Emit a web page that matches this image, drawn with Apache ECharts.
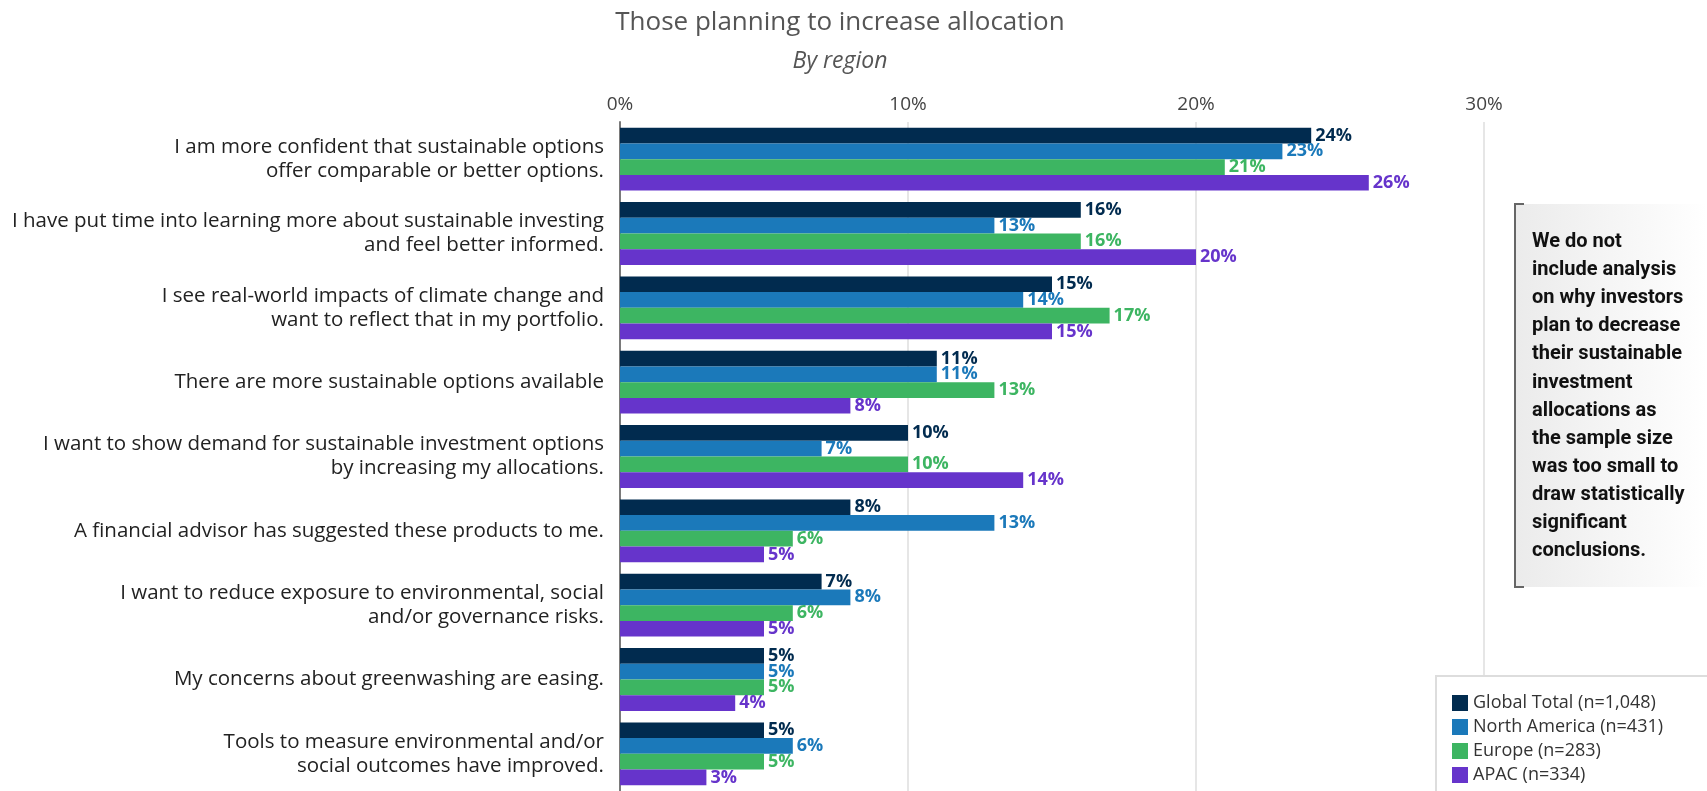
<!DOCTYPE html>
<html>
<head>
<meta charset="utf-8">
<title>Those planning to increase allocation</title>
<script src="https://cdn.jsdelivr.net/npm/echarts@6/dist/echarts.min.js"></script>
<style>
  html, body { margin: 0; padding: 0; background: #ffffff; }
  #chart { width: 1707px; height: 791px; }
</style>
</head>
<body>
<div id="chart"></div>
<script>
// Reasons given by respondents planning to increase sustainable allocations
const categories = [
  'I am more confident that sustainable options\noffer comparable or better options.',
  'I have put time into learning more about sustainable investing\nand feel better informed.',
  'I see real-world impacts of climate change and\nwant to reflect that in my portfolio.',
  'There are more sustainable options available',
  'I want to show demand for sustainable investment options\nby increasing my allocations.',
  'A financial advisor has suggested these products to me.',
  'I want to reduce exposure to environmental, social\nand/or governance risks.',
  'My concerns about greenwashing are easing.',
  'Tools to measure environmental and/or\nsocial outcomes have improved.'
];

const seriesNames = [
  'Global Total (n=1,048)',
  'North America (n=431)',
  'Europe (n=283)',
  'APAC (n=334)'
];

const globalTotal  = [24, 16, 15, 11, 10, 8, 7, 5, 5];
const northAmerica = [23, 13, 14, 11, 7, 13, 8, 5, 6];
const europe       = [21, 16, 17, 13, 10, 6, 6, 5, 5];
const apac         = [26, 20, 15, 8, 14, 5, 5, 4, 3];

const xTicks = [0, 10, 20, 30];

const noteLines = [
  'We do not',
  'include analysis',
  'on why investors',
  'plan to decrease',
  'their sustainable',
  'investment',
  'allocations as',
  'the sample size',
  'was too small to',
  'draw statistically',
  'significant',
  'conclusions.'
];

const colors = ['#012B4F', '#1B79BA', '#3DB562', '#6634CB'];
const seriesData = [globalTotal, northAmerica, europe, apac];
const FONT = 'Open Sans';

const chart = echarts.init(document.getElementById('chart'));

const series = seriesNames.map((name, i) => ({
  name: name,
  type: 'bar',
  data: seriesData[i],
  barGap: '0%',
  barCategoryGap: '15.4%',
  itemStyle: { color: colors[i] },
  label: {
    show: true,
    position: 'right',
    distance: 4,
    formatter: '{c}%',
    color: colors[i],
    fontFamily: FONT,
    fontWeight: 'bold',
    fontSize: 18
  },
  z: 3
}));

chart.setOption({
  animation: false,
  textStyle: { fontFamily: FONT },
  title: [
    {
      text: 'Those planning to increase allocation',
      left: 835, top: 5, textAlign: 'center',
      textStyle: { fontSize: 26, fontWeight: 'normal', color: '#555555', fontFamily: FONT }
    },
    {
      text: 'By region',
      left: 835, top: 45, textAlign: 'center',
      textStyle: { fontSize: 23, fontWeight: 'normal', fontStyle: 'italic', color: '#555555', fontFamily: FONT }
    }
  ],
  grid: { left: 620, right: 223, top: 122, height: 672, containLabel: false },
  xAxis: {
    type: 'value',
    position: 'top',
    min: xTicks[0],
    max: xTicks[xTicks.length - 1],
    interval: 10,
    axisLine: { show: false },
    axisTick: { show: false },
    axisLabel: {
      formatter: '{value}%',
      fontSize: 19,
      color: '#444444',
      margin: 8
    },
    splitLine: { show: true, lineStyle: { color: '#e6e6e6', width: 2 } }
  },
  yAxis: {
    type: 'category',
    inverse: true,
    data: categories,
    axisLine: { show: true, lineStyle: { color: '#7a7a7a', width: 2 } },
    axisTick: { show: false },
    axisLabel: {
      fontSize: 20.5,
      color: '#222222',
      lineHeight: 24,
      align: 'right',
      margin: 16
    }
  },
  legend: {
    orient: 'vertical',
    left: 1452,
    top: 694,
    padding: 0,
    itemWidth: 16,
    itemHeight: 16,
    itemGap: 6,
    icon: 'rect',
    selectedMode: false,
    textStyle: { fontSize: 18, color: '#333333', lineHeight: 18, fontFamily: FONT },
    data: seriesNames
  },
  graphic: [
    {
      type: 'rect',
      z: 1,
      shape: { x: 1436, y: 676, width: 300, height: 140 },
      style: { fill: '#ffffff', stroke: '#dddddd', lineWidth: 2 }
    },
    {
      type: 'rect',
      z: 1,
      shape: { x: 1515, y: 204, width: 192, height: 383 },
      style: {
        fill: new echarts.graphic.LinearGradient(0, 0, 1, 0, [
          { offset: 0, color: '#ebebeb' },
          { offset: 1, color: '#ffffff' }
        ])
      }
    },
    {
      type: 'polyline',
      z: 2,
      shape: { points: [[1524, 204], [1515, 204], [1515, 587], [1524, 587]] },
      style: { stroke: '#666666', lineWidth: 2, fill: null }
    },
    {
      type: 'text',
      z: 2,
      left: 1532,
      top: 228,
      style: {
        text: noteLines.join('\n'),
        fontFamily: 'Roboto',
        fontSize: 20,
        fontWeight: 'bold',
        lineHeight: 28.1,
        fill: '#111111'
      }
    }
  ],
  series: series
});
</script>
</body>
</html>
